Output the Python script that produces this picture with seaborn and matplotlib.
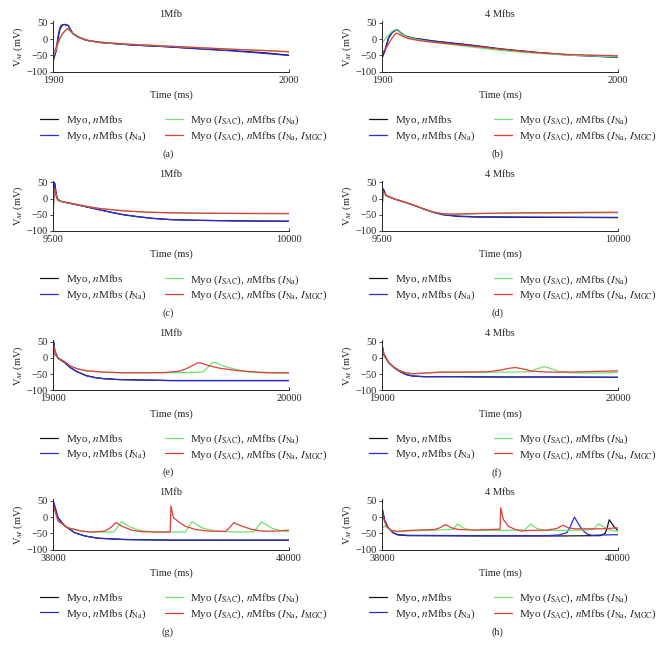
import matplotlib
matplotlib.use("Agg")
import matplotlib.pyplot as plt
import seaborn as sns
from matplotlib.lines import Line2D

# ---------------- data ----------------
# Panel (a) 1Mfb, 1900-2000 ms
a_blk_t = [1900, 1901.5, 1902.2, 1903, 1904, 1905, 1906.5, 1907.2, 1908.5, 1910.6, 1914, 1920, 1934, 1948, 1962, 1976, 1990, 2000]
a_blk_v = [-66, -30, 5, 32, 44, 45, 42, 32, 17, 7, -3, -10, -18, -23, -29, -35, -42, -49]
a_blu_t = [1900, 1901.4, 1902.1, 1902.8, 1903.5, 1904.9, 1906.4, 1907.1, 1908.5, 1910.6, 1914.1, 1919.8, 1933.9, 1948, 1962.1, 1976.3, 1990.4, 2000]
a_blu_v = [-69, -34, 7, 33, 43, 46, 43, 33, 17, 7, -3, -10, -18, -23, -30, -36, -44, -50]
a_grn_t = [1900, 1901.4, 1902.8, 1904.2, 1905.6, 1906.6, 1907.3, 1908.5, 1911.3, 1915.5, 1922.6, 1933.9, 1948, 1962.1, 1976.3, 1990.4, 2000]
a_grn_v = [-55, -28, -2, 17, 29, 32, 26, 17, 5, -5, -11, -16, -21, -26, -31, -35, -38]
a_red_t = [1900, 1901.4, 1902.8, 1904.2, 1905.6, 1906.4, 1907.3, 1908.5, 1911.3, 1915.5, 1922.6, 1933.9, 1948, 1962.1, 1976.3, 1990.4, 2000]
a_red_v = [-49, -23, 2, 19, 30, 32, 26, 17, 5, -5, -11, -16, -21, -26, -31, -35, -39]

# Panel (b) 4 Mfbs, 1900-2000 ms
b_blk_t = [1900, 1901.4, 1902.8, 1904.2, 1905.6, 1906.4, 1907.8, 1909.9, 1912.7, 1922.6, 1936.7, 1950.8, 1965, 1979.1, 2000]
b_blk_v = [-57, -30, 5, 21, 28, 30, 21, 10, 4, -6, -17, -30, -40, -48, -55]
b_blu_t = [1900, 1901.4, 1902.8, 1904.2, 1905.6, 1906.4, 1907.8, 1909.9, 1912.7, 1922.6, 1936.7, 1950.8, 1965, 1979.1, 2000]
b_blu_v = [-59, -33, 3, 19, 27, 29, 19, 8, 3, -7, -18, -31, -41, -49, -56]
b_grn_t = [1900, 1902.1, 1904.2, 1905.9, 1907.8, 1910.6, 1915.5, 1922.6, 1936.7, 1950.8, 1965, 1979.1, 2000]
b_grn_v = [-12, 8, 24, 31, 19, 6, -2, -10, -23, -35, -43, -49, -54]
b_red_t = [1900, 1902.1, 1904.2, 1905.9, 1907.8, 1910.6, 1915.5, 1922.6, 1936.7, 1950.8, 1965, 1979.1, 2000]
b_red_v = [-43, -23, 3, 19, 13, 3, -4, -10, -20, -31, -41, -47, -51]

# Panel (c) 1Mfb, 9500-10000 ms
c_blk_t = [9500, 9502, 9504, 9506, 9509, 9515, 9530, 9550, 9575, 9600, 9625, 9650, 9680, 9710, 9750, 9800, 9850, 9900, 10000]
c_blk_v = [-78, 50, 46, 20, 0, -8, -13, -19, -27, -35, -43, -50, -56, -61, -65, -67, -68, -69, -70]
c_blu_t = [9500, 9502, 9504, 9506, 9509, 9515, 9530, 9550, 9575, 9600, 9625, 9650, 9680, 9710, 9750, 9800, 9850, 9900, 10000]
c_blu_v = [-80, 48, 45, 20, 0, -8, -13, -19, -27, -35, -43, -50, -56, -61, -65, -67, -68, -69, -70]
c_grn_t = [9500, 9502, 9504, 9507, 9510, 9520, 9550, 9575, 9600, 9650, 9700, 9750, 9800, 9900, 10000]
c_grn_v = [-60, 30, 25, 5, -5, -10, -18, -25, -31, -38, -42, -44, -45, -46, -47]
c_red_t = [9500, 9502, 9504, 9507, 9510, 9520, 9550, 9575, 9600, 9650, 9700, 9750, 9800, 9900, 10000]
c_red_v = [-72, 30, 27, 5, -5, -10, -18, -25, -31, -38, -42, -44, -45, -46, -46]

# Panel (d) 4 Mfbs, 9500-10000 ms
d_blk_t = [9500, 9502, 9504, 9508, 9515, 9530, 9550, 9570, 9590, 9610, 9630, 9660, 9700, 9800, 9900, 10000]
d_blk_v = [-45, 30, 26, 11, 5, -3, -12, -22, -33, -43, -50, -55, -57, -58, -58, -59]
d_blu_t = [9500, 9502, 9504, 9508, 9515, 9530, 9550, 9570, 9590, 9610, 9630, 9660, 9700, 9800, 9900, 10000]
d_blu_v = [-48, 28, 25, 10, 5, -3, -12, -22, -33, -43, -50, -54, -56, -57, -58, -58]
d_grn_t = [9500, 9502, 9505, 9510, 9530, 9550, 9570, 9590, 9610, 9630, 9650, 9680, 9720, 9800, 9900, 10000]
d_grn_v = [-40, 20, 18, 8, -3, -12, -22, -33, -42, -47, -49, -48, -46, -45, -45, -44]
d_red_t = [9500, 9502, 9505, 9510, 9530, 9550, 9570, 9590, 9610, 9630, 9650, 9700, 9800, 9900, 10000]
d_red_v = [-10, 22, 18, 8, -3, -12, -22, -33, -42, -47, -48, -46, -44, -43, -42]

# Panel (e) 1Mfb, 19000-20000 ms
e_blk_t = [19000, 19003, 19008, 19021, 19050, 19071, 19100, 19141, 19180, 19212, 19280, 19354, 19500, 19700, 20000]
e_blk_v = [-85, 48, 20, -1, -15, -29, -42, -55, -61, -64, -67, -68, -70, -70, -70]
e_blu_t = [19000, 19003, 19008, 19021, 19050, 19071, 19100, 19141, 19180, 19212, 19280, 19354, 19500, 19700, 20000]
e_blu_v = [-85, 50, 20, -1, -15, -29, -42, -55, -61, -64, -67, -68, -70, -70, -70]
e_grn_t = [19000, 19003, 19010, 19021, 19050, 19071, 19100, 19141, 19212, 19300, 19400, 19500, 19600, 19636, 19655, 19679, 19700, 19721, 19750, 19778, 19810, 19834, 19900, 20000]
e_grn_v = [-45, 35, 10, 0, -12, -24, -33, -40, -44, -46, -46, -46, -45, -43, -30, -13, -18, -25, -31, -36, -41, -44, -46, -47]
e_red_t = [19000, 19003, 19010, 19021, 19050, 19071, 19100, 19141, 19212, 19300, 19400, 19480, 19537, 19560, 19580, 19600, 19615, 19630, 19665, 19707, 19778, 19863, 19930, 20000]
e_red_v = [-50, 35, 10, 0, -12, -24, -33, -40, -44, -46, -46, -45, -41, -35, -28, -20, -15, -17, -25, -32, -39, -44, -46, -46]

# Panel (f) 4 Mfbs, 19000-20000 ms
f_blk_t = [19000, 19002, 19008, 19028, 19050, 19071, 19100, 19130, 19180, 19300, 19500, 19700, 20000]
f_blk_v = [-48, 35, 12, -14, -29, -40, -51, -56, -58, -58, -59, -59, -60]
f_blu_t = [19000, 19002, 19008, 19028, 19050, 19071, 19100, 19130, 19180, 19300, 19500, 19700, 20000]
f_blu_v = [-50, 30, 10, -15, -30, -40, -51, -56, -58, -58, -59, -59, -60]
f_grn_t = [19000, 19002, 19010, 19028, 19050, 19071, 19100, 19130, 19180, 19250, 19350, 19450, 19550, 19620, 19650, 19686, 19710, 19750, 19800, 19900, 20000]
f_grn_v = [-45, 25, 5, -14, -28, -38, -46, -49, -47, -44, -44, -44, -44, -43, -36, -27, -32, -42, -46, -47, -45]
f_red_t = [19000, 19002, 19010, 19028, 19050, 19071, 19100, 19130, 19180, 19250, 19350, 19450, 19500, 19540, 19566, 19590, 19636, 19700, 19800, 19900, 20000]
f_red_v = [-10, 25, 5, -14, -28, -38, -46, -49, -47, -44, -44, -43, -38, -32, -30, -33, -41, -44, -44, -42, -40]

# Panel (g) 1Mfb, 38000-40000 ms
g_blk_t = [38000, 38004, 38043, 38099, 38184, 38270, 38383, 38610, 39035, 39500, 40000]
g_blk_v = [-58, 46, -2, -27, -48, -58, -65, -69, -71, -71, -71]
g_blu_t = [38000, 38004, 38043, 38099, 38184, 38270, 38383, 38610, 39035, 39500, 40000]
g_blu_v = [-60, 48, -2, -27, -48, -58, -65, -69, -71, -71, -71]
g_grn_t = [38000, 38004, 38043, 38128, 38241, 38326, 38511, 38545, 38582, 38638, 38723, 38837, 39000, 39121, 39150, 39177, 39262, 39376, 39489, 39600, 39702, 39735, 39765, 39858, 39943, 40000]
g_grn_v = [-40, 30, -12, -33, -43, -46, -46, -32, -14, -28, -40, -45, -46, -46, -30, -14, -33, -43, -45, -46, -45, -30, -14, -35, -43, -45]
g_red_t = [38000, 38004, 38043, 38128, 38241, 38326, 38440, 38490, 38531, 38560, 38582, 38667, 38752, 38900, 38993, 38999, 39021, 39064, 39121, 39206, 39319, 39461, 39490, 39532, 39560, 39603, 39688, 39773, 39887, 40000]
g_red_v = [-45, 35, -12, -33, -43, -46, -43, -32, -17, -22, -28, -40, -45, -46, -46, 34, -2, -14, -28, -38, -43, -44, -35, -17, -22, -28, -38, -43, -43, -40]

# Panel (h) 4 Mfbs, 38000-40000 ms
h_blk_t = [38000, 38003, 38023, 38051, 38093, 38136, 38221, 38800, 39500, 39850, 39892, 39910, 39926, 39949, 39963, 40000]
h_blk_v = [-30, 25, -10, -32, -48, -55, -57, -58, -58, -57, -50, -30, -8, -20, -28, -42]
h_blu_t = [38000, 38003, 38023, 38051, 38093, 38136, 38221, 38800, 39400, 39496, 39567, 39595, 39615, 39632, 39660, 39694, 39737, 39779, 39864, 40000]
h_blu_v = [-40, 20, -12, -33, -48, -54, -56, -57, -57, -55, -48, -30, -12, 0, -18, -38, -52, -56, -55, -54]
h_grn_t = [38000, 38023, 38079, 38136, 38221, 38448, 38603, 38620, 38640, 38688, 38731, 38816, 39000, 39213, 39240, 39261, 39312, 39382, 39600, 39793, 39815, 39836, 39892, 39949, 40000]
h_grn_v = [-35, -28, -41, -45, -43, -40, -38, -30, -21, -33, -38, -40, -41, -39, -28, -21, -35, -41, -41, -38, -28, -21, -33, -41, -43]
h_red_t = [38000, 38010, 38037, 38079, 38136, 38221, 38448, 38490, 38538, 38589, 38646, 38800, 39000, 39006, 39028, 39071, 39128, 39184, 39241, 39400, 39482, 39533, 39581, 39637, 39864, 40000]
h_red_v = [27, 0, -28, -41, -44, -41, -38, -33, -23, -33, -38, -40, -37, 29, -7, -28, -38, -43, -41, -40, -35, -25, -33, -36, -36, -33]

panel_letters = ["a", "b", "c", "d", "e", "f", "g", "h"]
panel_titles = ["1Mfb", "4 Mfbs"] * 4
row_xlims = [(1900, 2000), (9500, 10000), (19000, 20000), (38000, 40000)]
y_ticks = [-100, -50, 0, 50]
legend_labels = [
    r"Myo, $n$Mfbs",
    r"Myo, $n$Mfbs ($I_{\mathrm{Na}}$)",
    r"Myo ($I_{\mathrm{SAC}}$), $n$Mfbs ($I_{\mathrm{Na}}$)",
    r"Myo ($I_{\mathrm{SAC}}$), $n$Mfbs ($I_{\mathrm{Na}}$, $I_{\mathrm{MGC}}$)",
]

panel_series = {
    "a": [(a_blk_t, a_blk_v), (a_blu_t, a_blu_v), (a_grn_t, a_grn_v), (a_red_t, a_red_v)],
    "b": [(b_blk_t, b_blk_v), (b_blu_t, b_blu_v), (b_grn_t, b_grn_v), (b_red_t, b_red_v)],
    "c": [(c_blk_t, c_blk_v), (c_blu_t, c_blu_v), (c_grn_t, c_grn_v), (c_red_t, c_red_v)],
    "d": [(d_blk_t, d_blk_v), (d_blu_t, d_blu_v), (d_grn_t, d_grn_v), (d_red_t, d_red_v)],
    "e": [(e_blk_t, e_blk_v), (e_blu_t, e_blu_v), (e_grn_t, e_grn_v), (e_red_t, e_red_v)],
    "f": [(f_blk_t, f_blk_v), (f_blu_t, f_blu_v), (f_grn_t, f_grn_v), (f_red_t, f_red_v)],
    "g": [(g_blk_t, g_blk_v), (g_blu_t, g_blu_v), (g_grn_t, g_grn_v), (g_red_t, g_red_v)],
    "h": [(h_blk_t, h_blk_v), (h_blu_t, h_blu_v), (h_grn_t, h_grn_v), (h_red_t, h_red_v)],
}

# ---------------- style ----------------
colors = ["#141414", "#2b2bd2", "#6fe36f", "#e23b3b"]
sns.set_style("ticks")
plt.rcParams["font.family"] = ["Liberation Serif", "DejaVu Serif"]
plt.rcParams["mathtext.fontset"] = "stix"
FS = 7.5
LFS = 8

W, H = 669, 657
fig = plt.figure(figsize=(W / 100, H / 100), dpi=100)

col_L = [53, 382]
col_R = [289, 618]
row_pitch = 159.3
y50_0, ym100_0 = 23.0, 71.7

for i, letter in enumerate(panel_letters):
    row, col = divmod(i, 2)
    L, R = col_L[col], col_R[col]
    y50 = y50_0 + row * row_pitch
    ym100 = ym100_0 + row * row_pitch
    ppm = (ym100 - y50) / 150.0
    ytop = y50 - 5 * ppm
    ax = fig.add_axes([L / W, 1 - ym100 / H, (R - L) / W, (ym100 - ytop) / H])
    for (t, v), c in zip(panel_series[letter], colors):
        sns.lineplot(x=t, y=v, ax=ax, color=c, linewidth=0.9, estimator=None,
                     sort=False, legend=False)
    ax.set_xlim(*row_xlims[row])
    ax.set_ylim(-100, 55)
    ax.set_xticks(list(row_xlims[row]))
    ax.set_yticks(y_ticks)
    ax.tick_params(axis="x", direction="in", length=2.5, width=0.6, pad=3, labelsize=FS)
    ax.tick_params(axis="y", direction="out", length=2.5, width=0.6, pad=1.5, labelsize=FS)
    for s in ["top", "right"]:
        ax.spines[s].set_visible(False)
    for s in ["left", "bottom"]:
        ax.spines[s].set_linewidth(0.7)
    ax.set_title(panel_titles[i], fontsize=FS, pad=3)
    ax.set_xlabel("Time (ms)", fontsize=FS, labelpad=4)
    ax.set_ylabel(r"V$_{M}$ (mV)", fontsize=FS, labelpad=1)

    handles = [Line2D([], [], color=c, lw=0.9) for c in colors]
    cx = (L + R) / 2 + 13
    cy = 128 + row * row_pitch
    fig.legend(handles, legend_labels, loc="center", ncol=2,
               bbox_to_anchor=(cx / W, 1 - cy / H), frameon=False, fontsize=LFS,
               handlelength=1.6, handletextpad=0.7, columnspacing=1.7,
               labelspacing=0.2, borderpad=0, borderaxespad=0)
    fig.text(((L + R) / 2 - 3) / W, 1 - (154 + row * row_pitch) / H, f"({letter})",
             ha="center", va="center", fontsize=FS)

fig.savefig("out.png", dpi=100)
